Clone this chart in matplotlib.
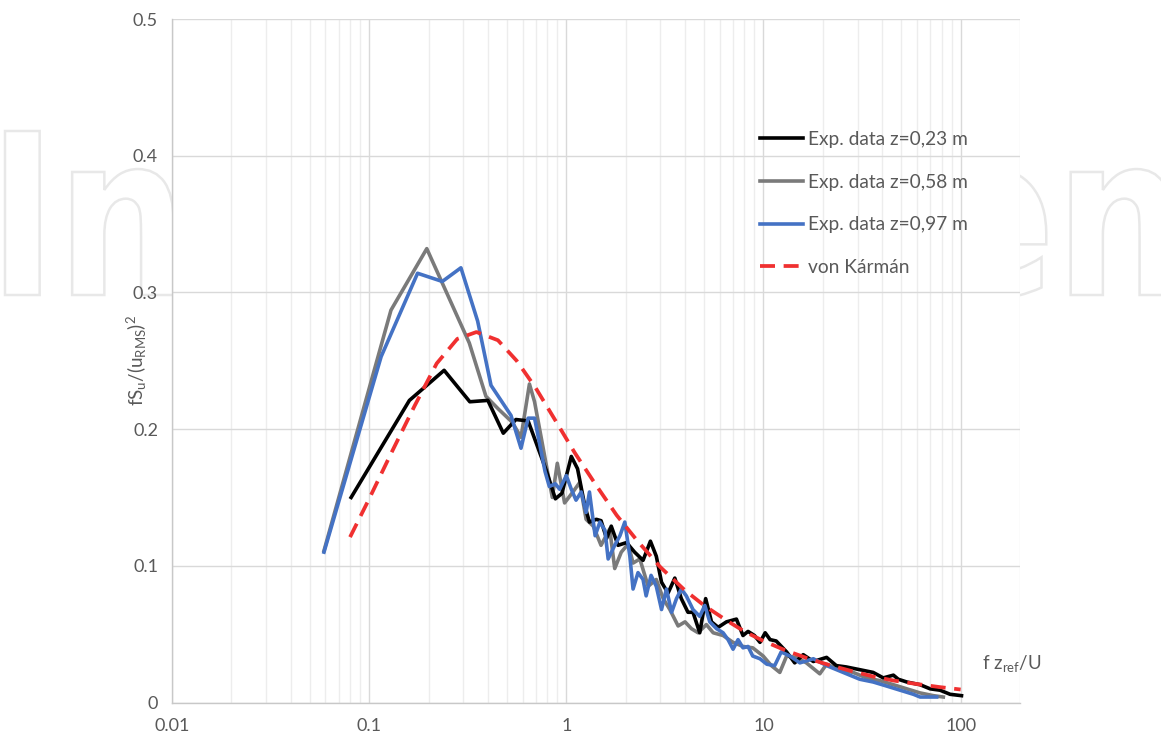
import matplotlib

matplotlib.use("Agg")

import matplotlib.pyplot as plt
from matplotlib.font_manager import FontProperties
from matplotlib.patches import PathPatch
from matplotlib.textpath import TextPath
from matplotlib.transforms import Affine2D
from matplotlib.ticker import FixedLocator, FixedFormatter, LogLocator, NullFormatter

# --- data ---
x_023 = [0.081, 0.16, 0.24, 0.324, 0.40, 0.479, 0.555, 0.64, 0.79, 0.88, 0.95, 1.06, 1.14, 1.24,
         1.31, 1.42, 1.5, 1.6, 1.69, 1.83, 2.02, 2.22, 2.45, 2.67, 2.86, 3.04, 3.28, 3.55, 3.83,
         4.14, 4.39, 4.75, 5.09, 5.45, 5.89, 6.49, 7.29, 7.87, 8.35, 9.0, 9.6, 10.2, 10.8, 11.6,
         13.1, 14.4, 15.9, 17.9, 20.9, 23.4, 26.3, 30.8, 36.0, 40.5, 45.6, 48.3, 53.3, 62.3, 70.0,
         78.6, 88.4, 101]
y_023 = [0.150, 0.221, 0.243, 0.220, 0.221, 0.197, 0.207, 0.206, 0.170, 0.149, 0.153, 0.180, 0.171,
         0.144, 0.132, 0.134, 0.133, 0.120, 0.129, 0.115, 0.117, 0.110, 0.104, 0.118, 0.107, 0.088,
         0.080, 0.091, 0.076, 0.066, 0.066, 0.051, 0.076, 0.059, 0.055, 0.059, 0.061, 0.049, 0.052,
         0.049, 0.044, 0.051, 0.046, 0.045, 0.037, 0.029, 0.035, 0.030, 0.033, 0.027, 0.026, 0.024,
         0.022, 0.018, 0.020, 0.017, 0.015, 0.013, 0.010, 0.009, 0.006, 0.005]

x_058 = [0.059, 0.129, 0.196, 0.322, 0.391, 0.45, 0.532, 0.589, 0.65, 0.69, 0.849, 0.9, 0.98, 1.08,
         1.17, 1.26, 1.37, 1.5, 1.66, 1.76, 1.9, 2.06, 2.18, 2.36, 2.6, 2.86, 3.1, 3.35, 3.69, 4.0,
         4.31, 4.66, 5.13, 5.56, 6.24, 7.01, 7.87, 8.82, 9.96, 10.96, 12.1, 13.1, 14.7, 16.5, 19.3,
         20.9, 24.4, 28.5, 33.3, 38.9, 45.6, 53.3, 62.3, 72.8, 81.7]
y_058 = [0.111, 0.287, 0.332, 0.263, 0.224, 0.215, 0.205, 0.194, 0.233, 0.220, 0.150, 0.175, 0.146,
         0.154, 0.161, 0.134, 0.129, 0.115, 0.127, 0.098, 0.110, 0.116, 0.102, 0.105, 0.085, 0.090,
         0.076, 0.068, 0.056, 0.059, 0.054, 0.051, 0.057, 0.051, 0.049, 0.044, 0.041, 0.040, 0.034,
         0.027, 0.022, 0.034, 0.033, 0.029, 0.021, 0.028, 0.024, 0.022, 0.018, 0.016, 0.013, 0.010,
         0.007, 0.005, 0.004]

x_097 = [0.059, 0.115, 0.176, 0.235, 0.292, 0.355, 0.415, 0.524, 0.589, 0.64, 0.69, 0.78, 0.82, 0.88,
         0.925, 1.0, 1.06, 1.12, 1.19, 1.26, 1.31, 1.4, 1.48, 1.57, 1.63, 1.76, 1.87, 1.98, 2.1, 2.18,
         2.31, 2.45, 2.54, 2.69, 2.86, 3.04, 3.22, 3.42, 3.62, 3.83, 4.06, 4.39, 4.75, 5.04, 5.34,
         5.78, 6.24, 6.61, 7.01, 7.43, 7.87, 8.35, 8.82, 9.6, 10.4, 11.4, 12.3, 13.6, 15.3, 17.9,
         20.9, 24.4, 27.4, 30.8, 36.0, 42.2, 49.3, 57.6, 62.3, 70, 75.6]
y_097 = [0.110, 0.253, 0.314, 0.308, 0.318, 0.279, 0.232, 0.210, 0.186, 0.208, 0.208, 0.169, 0.158,
         0.160, 0.156, 0.166, 0.156, 0.148, 0.154, 0.139, 0.154, 0.122, 0.132, 0.126, 0.105, 0.115,
         0.122, 0.132, 0.107, 0.083, 0.095, 0.090, 0.078, 0.093, 0.085, 0.068, 0.083, 0.066, 0.076,
         0.083, 0.078, 0.068, 0.063, 0.071, 0.059, 0.054, 0.051, 0.046, 0.039, 0.046, 0.040, 0.041,
         0.034, 0.032, 0.028, 0.027, 0.037, 0.034, 0.029, 0.032, 0.027, 0.023, 0.020, 0.017, 0.015,
         0.012, 0.009, 0.006, 0.004, 0.004, 0.004]

x_vk = [0.08, 0.1, 0.13, 0.17, 0.22, 0.28, 0.35, 0.45, 0.56, 0.7, 0.9, 1.1, 1.4, 1.8, 2.3, 3, 4, 5,
        6.5, 8, 10, 13, 17, 22, 28, 36, 46, 60, 78, 100]
y_vk = [0.121, 0.149, 0.183, 0.217, 0.248, 0.266, 0.271, 0.265, 0.250, 0.230, 0.204, 0.183, 0.160,
        0.137, 0.118, 0.099, 0.082, 0.071, 0.060, 0.052, 0.045, 0.038, 0.032, 0.027, 0.023, 0.019,
        0.016, 0.0135, 0.0113, 0.0095]

labels = ["Exp. data z=0,23 m", "Exp. data z=0,58 m", "Exp. data z=0,97 m", "von Kármán"]
x_ticks = [0.01, 0.1, 1, 10, 100]
x_ticklabels = ["0.01", "0.1", "1", "10", "100"]
y_ticks = [0, 0.1, 0.2, 0.3, 0.4, 0.5]
y_ticklabels = ["0", "0.1", "0.2", "0.3", "0.4", "0.5"]

TEXT = "#595959"
plt.rcParams.update({
    "font.family": ["Lato", "DejaVu Sans"],
    "mathtext.default": "regular",
    "font.size": 13,
})

W, H = 1161, 735
fig = plt.figure(figsize=(W / 100, H / 100), dpi=100)
fig.patch.set_facecolor("white")

# faint outline watermark behind the plot area
prop = FontProperties(family="DejaVu Sans", weight="bold")
word = TextPath((0, 0), "IntechOpen", size=100, prop=prop)
cap = TextPath((0, 0), "I", size=100, prop=prop).get_extents()
ext = word.get_extents()
sy = 164 / cap.height
sx = (1172 - 5) / ext.width
wm_tr = (Affine2D().translate(-ext.x0, 0).scale(sx, sy).translate(5, H - 295)
         .scale(1 / W, 1 / H) + fig.transFigure)
fig.add_artist(PathPatch(word, transform=wm_tr, facecolor="none", edgecolor="#e8e8e8",
                         lw=1.8, zorder=-5))

ax = fig.add_axes([172 / W, (H - 702.5) / H, (1020 - 172) / W, (702.5 - 19) / H])
ax.set_facecolor("white")
ax.set_zorder(1)

ax.plot(x_023, y_023, color="#000000", lw=2.6, label=labels[0], zorder=4)
ax.plot(x_058, y_058, color="#7a7a7a", lw=2.6, label=labels[1], zorder=3)
ax.plot(x_097, y_097, color="#4472C4", lw=2.6, label=labels[2], zorder=5)
ax.plot(x_vk, y_vk, color="#F03030", lw=2.7, ls=(0, (4.0, 2.3)), label=labels[3], zorder=6)

ax.set_xscale("log")
ax.set_xlim(0.01, 200)
ax.set_ylim(0, 0.5)
ax.xaxis.set_major_locator(FixedLocator(x_ticks))
ax.xaxis.set_major_formatter(FixedFormatter(x_ticklabels))
ax.xaxis.set_minor_locator(LogLocator(base=10, subs=range(2, 10), numticks=20))
ax.xaxis.set_minor_formatter(NullFormatter())
ax.yaxis.set_major_locator(FixedLocator(y_ticks))
ax.yaxis.set_major_formatter(FixedFormatter(y_ticklabels))

ax.grid(which="major", axis="both", color="#d9d9d9", lw=1.0)
ax.grid(which="minor", axis="x", color="#ededed", lw=1.0)
ax.set_axisbelow(True)
ax.tick_params(which="both", length=0, colors=TEXT, labelsize=13)
ax.tick_params(axis="x", pad=11)
ax.tick_params(axis="y", pad=10)
for side in ("top", "right"):
    ax.spines[side].set_visible(False)
for side in ("left", "bottom"):
    ax.spines[side].set_color("#c8c8c8")
    ax.spines[side].set_linewidth(1.0)

ax.set_ylabel("fS$_u$/(u$_{RMS}$)$^2$", color=TEXT, fontsize=13.5)
ax.yaxis.set_label_coords(-0.027, 0.5)

fig.text(982 / W, 1 - 664 / H, "f z$_{ref}$/U", color=TEXT, fontsize=13.5,
         ha="left", va="center", zorder=10)

leg = ax.legend(loc="upper left", bbox_to_anchor=(760 / W, 1 - 131 / H),
                bbox_transform=fig.transFigure, frameon=False, fontsize=13.8,
                handlelength=2.25, handletextpad=0.27, labelspacing=1.34,
                borderpad=0, borderaxespad=0)
for t in leg.get_texts():
    t.set_color(TEXT)

fig.savefig("out.png", dpi=100, facecolor="white")
